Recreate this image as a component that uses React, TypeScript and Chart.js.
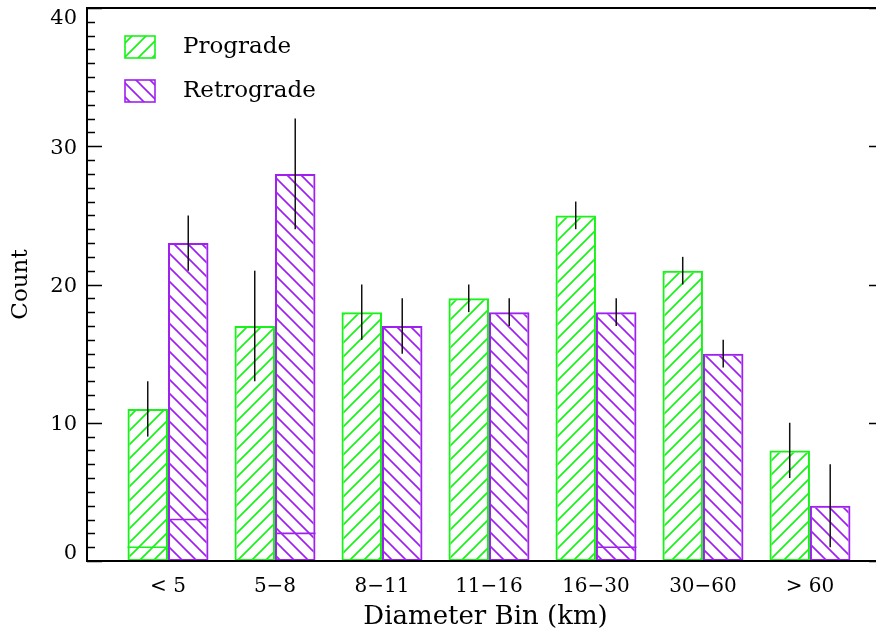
import React, { useEffect, useRef } from "react";
import { Chart, registerables } from "chart.js";

Chart.register(...registerables);

// Diameter bins and counts per orbit direction
const categories = ["< 5", "5\u22128", "8\u221211", "11\u221216", "16\u221230", "30\u221260", "> 60"];
const seriesNames = ["Prograde", "Retrograde"];
const prograde = [11, 17, 18, 19, 25, 21, 8];
const retrograde = [23, 28, 17, 18, 18, 15, 4];
// symmetric uncertainties
const progradeErr = [2, 4, 2, 1, 1, 1, 2];
const retrogradeErr = [2, 4, 2, 1, 1, 1, 3];
// sub-counts marked by a divider inside each bar
const progradeSub = [1, 0, 0, 0, 0, 0, 0];
const retrogradeSub = [3, 2, 0, 0, 1, 0, 0];
const yTickValues = [0, 10, 20, 30, 40];

const GREEN = "rgb(24, 242, 24)";
const PURPLE = "rgb(160, 32, 240)";
const FONT = "'DejaVu Serif', serif";

function hatch(color: string, forward: boolean): CanvasPattern | string {
  const s = 14;
  const c = document.createElement("canvas");
  c.width = s;
  c.height = s;
  const g = c.getContext("2d");
  if (!g) return color;
  g.strokeStyle = color;
  g.lineWidth = 1.7;
  g.beginPath();
  if (forward) {
    g.moveTo(-2, s + 2);
    g.lineTo(s + 2, -2);
    g.moveTo(-2, 2);
    g.lineTo(2, -2);
    g.moveTo(s - 2, s + 2);
    g.lineTo(s + 2, s - 2);
  } else {
    g.moveTo(-2, -2);
    g.lineTo(s + 2, s + 2);
    g.moveTo(s - 2, -2);
    g.lineTo(s + 2, 2);
    g.moveTo(-2, s - 2);
    g.lineTo(2, s + 2);
  }
  g.stroke();
  return g.createPattern(c, "repeat") || color;
}

export default function App() {
  const ref = useRef<HTMLCanvasElement>(null);

  useEffect(() => {
    const canvas = ref.current;
    if (!canvas) return;
    const greenFill = hatch(GREEN, true);
    const purpleFill = hatch(PURPLE, false);
    const colors = [GREEN, PURPLE];
    const fills = [greenFill, purpleFill];
    const errs = [progradeErr, retrogradeErr];
    const subs = [progradeSub, retrogradeSub];

    const decor = {
      id: "decor",
      afterDatasetsDraw(chart: any) {
        const ctx = chart.ctx as CanvasRenderingContext2D;
        const ys = chart.scales.y;
        chart.data.datasets.forEach((ds: any, di: number) => {
          const meta = chart.getDatasetMeta(di);
          meta.data.forEach((bar: any, i: number) => {
            const half = bar.width / 2;
            const sub = subs[di][i];
            if (sub > 0) {
              const py = ys.getPixelForValue(sub);
              ctx.save();
              ctx.strokeStyle = colors[di];
              ctx.lineWidth = 1.6;
              ctx.beginPath();
              ctx.moveTo(bar.x - half, py);
              ctx.lineTo(bar.x + half, py);
              ctx.stroke();
              ctx.restore();
            }
            const v = ds.data[i].y;
            const e = errs[di][i];
            ctx.save();
            ctx.strokeStyle = "#111";
            ctx.lineWidth = 1.5;
            ctx.beginPath();
            ctx.moveTo(bar.x, ys.getPixelForValue(v - e));
            ctx.lineTo(bar.x, ys.getPixelForValue(v + e));
            ctx.stroke();
            ctx.restore();
          });
        });
      },
      afterDraw(chart: any) {
        const ctx = chart.ctx as CanvasRenderingContext2D;
        const ys = chart.scales.y;
        const { left, right, top, bottom } = chart.chartArea;
        ctx.save();
        // frame
        ctx.strokeStyle = "#000";
        ctx.lineWidth = 2;
        ctx.beginPath();
        ctx.moveTo(left, top);
        ctx.lineTo(right, top);
        ctx.lineTo(right, bottom);
        ctx.lineTo(left, bottom);
        ctx.closePath();
        ctx.stroke();
        // inward ticks on both vertical axes
        ctx.lineWidth = 1.5;
        for (let v = ys.min; v <= ys.max; v += 1) {
          const py = Math.round(ys.getPixelForValue(v)) + 0.5;
          const len = v % 10 === 0 ? 15 : 8;
          ctx.beginPath();
          ctx.moveTo(left, py);
          ctx.lineTo(left + len, py);
          ctx.moveTo(right, py);
          ctx.lineTo(right - len, py);
          ctx.stroke();
        }
        // y tick labels
        ctx.fillStyle = "#000";
        ctx.font = `21px ${FONT}`;
        ctx.textAlign = "right";
        ctx.textBaseline = "middle";
        yTickValues.forEach((v) => {
          const py = Math.min(Math.max(ys.getPixelForValue(v) + 2, top + 11), bottom - 7);
          ctx.fillText(String(v), left - 10, py);
        });
        // legend
        const rows = [47, 91];
        seriesNames.forEach((name, k) => {
          const cy = rows[k];
          ctx.fillStyle = fills[k] as any;
          ctx.fillRect(125, cy - 11, 30, 22);
          ctx.strokeStyle = colors[k];
          ctx.lineWidth = 1.6;
          ctx.strokeRect(125, cy - 11, 30, 22);
          ctx.fillStyle = "#000";
          ctx.font = `23px ${FONT}`;
          ctx.textAlign = "left";
          ctx.textBaseline = "middle";
          ctx.fillText(name, 183, cy);
        });
        ctx.restore();
      },
    };

    const chart = new Chart(canvas, {
      type: "bar",
      data: {
        datasets: [
          {
            label: seriesNames[0],
            data: prograde.map((v, i) => ({ x: i, y: v })),
            backgroundColor: greenFill as any,
            borderColor: GREEN,
            borderWidth: 2,
            borderSkipped: false,
            categoryPercentage: 0.757,
            barPercentage: 1,
          },
          {
            label: seriesNames[1],
            data: retrograde.map((v, i) => ({ x: i, y: v })),
            backgroundColor: purpleFill as any,
            borderColor: PURPLE,
            borderWidth: 2,
            borderSkipped: false,
            categoryPercentage: 0.757,
            barPercentage: 1,
          },
        ],
      },
      options: {
        responsive: false,
        animation: false,
        layout: { padding: { top: 8, right: 16, left: 0, bottom: 0 } },
        plugins: { legend: { display: false }, tooltip: { enabled: false } },
        scales: {
          x: {
            type: "linear",
            offset: false,
            min: -0.757,
            max: 6.692,
            grid: { display: false },
            border: { display: false },
            afterBuildTicks: (s: any) => {
              s.ticks = categories.map((_, i) => ({ value: i }));
            },
            afterFit: (s: any) => {
              s.height = 69;
            },
            ticks: {
              autoSkip: false,
              maxRotation: 0,
              padding: 6,
              color: "#000",
              font: { family: FONT, size: 20 },
              callback: (v: any) => categories[v as number],
            },
            title: {
              display: true,
              text: "Diameter Bin (km)",
              color: "#000",
              font: { family: FONT, size: 26 },
              padding: { top: 0, bottom: -3 },
            },
          },
          y: {
            min: 0,
            max: 40,
            grid: { display: false },
            border: { display: false },
            afterFit: (s: any) => {
              s.width = 87;
            },
            ticks: { display: false, stepSize: 10 },
            title: {
              display: true,
              text: "Count",
              color: "#000",
              font: { family: FONT, size: 23 },
              padding: { top: 7, bottom: 0 },
            },
          },
        },
      },
      plugins: [decor],
    } as any);
    return () => chart.destroy();
  }, []);

  return (
    <div
      style={{
        position: "absolute",
        left: 0,
        top: 0,
        width: 876,
        height: 630,
        overflow: "hidden",
        background: "#fff",
      }}
    >
      <canvas ref={ref} width={900} height={630} style={{ display: "block" }} />
    </div>
  );
}
